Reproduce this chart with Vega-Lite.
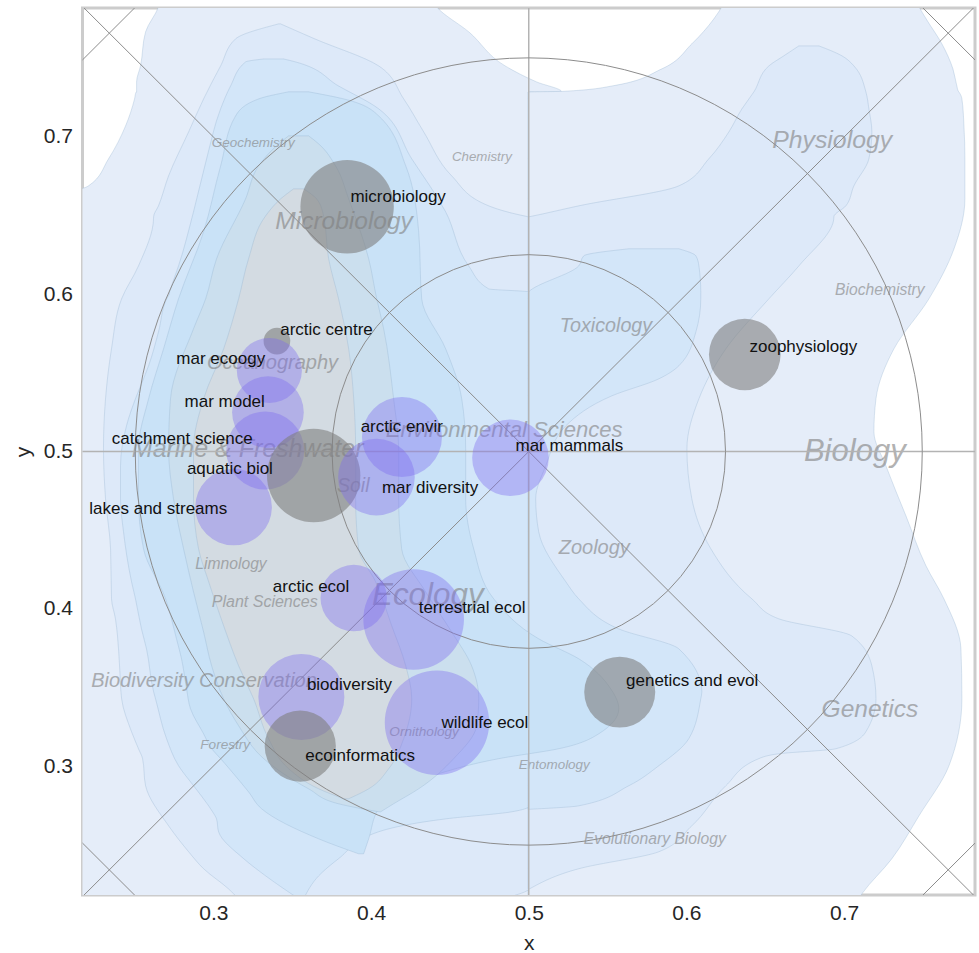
{
  "$schema": "https://vega.github.io/schema/vega-lite/v6.json",
  "width": 892.5,
  "height": 887,
  "autosize": {"type": "none"},
  "padding": {"left": 82.5, "top": 8, "right": 4, "bottom": 58},
  "background": "white",
  "config": {
    "view": {"stroke": "#cccccc", "strokeWidth": 3},
    "font": "Liberation Sans",
    "axis": {"grid": false, "ticks": false, "domain": false, "labelFontSize": 21, "labelColor": "#262626", "titleFontSize": 21, "titleFontWeight": "normal", "titleColor": "#262626", "labelFont": "Liberation Sans", "titleFont": "Liberation Sans"},
    "axisX": {"labelPadding": 7, "titlePadding": 9},
    "axisY": {"labelPadding": 10, "titlePadding": 10}
  },
  "datasets": {
    "contours": [
      {"level":"1","part":"a","y":0.795,"x0":0.268,"x1":0.436},
      {"level":"1","part":"a","y":0.7827,"x0":0.2652,"x1":0.4416},
      {"level":"1","part":"a","y":0.7668,"x0":0.257,"x1":0.462},
      {"level":"1","part":"a","y":0.7452,"x0":0.2538,"x1":0.485},
      {"level":"1","part":"a","y":0.735,"x0":0.2513,"x1":0.505},
      {"level":"1","part":"a","y":0.7287,"x0":0.2513,"x1":0.5209},
      {"level":"1","part":"a","y":0.7286,"x0":0.251,"x1":0.5005},
      {"level":"1","part":"a","y":0.7242,"x0":0.25,"x1":0.5005},
      {"level":"1","part":"a","y":0.707,"x0":0.2443,"x1":0.5005},
      {"level":"1","part":"a","y":0.6861,"x0":0.2335,"x1":0.5005},
      {"level":"1","part":"a","y":0.6689,"x0":0.2208,"x1":0.5005},
      {"level":"1","part":"a","y":0.6606,"x0":0.2,"x1":0.5005},
      {"level":"1","part":"a","y":0.5,"x0":0.2,"x1":0.5005},
      {"level":"1","part":"a","y":0.205,"x0":0.2,"x1":0.5005},
      {"level":"1","part":"b","y":0.795,"x0":0.63,"x1":0.742},
      {"level":"1","part":"b","y":0.7827,"x0":0.6225,"x1":0.7475},
      {"level":"1","part":"b","y":0.7751,"x0":0.6174,"x1":0.752},
      {"level":"1","part":"b","y":0.7592,"x0":0.6034,"x1":0.762},
      {"level":"1","part":"b","y":0.7433,"x0":0.5844,"x1":0.769},
      {"level":"1","part":"b","y":0.7324,"x0":0.5527,"x1":0.7715},
      {"level":"1","part":"b","y":0.729,"x0":0.5215,"x1":0.7725},
      {"level":"1","part":"b","y":0.7286,"x0":0.4995,"x1":0.7728},
      {"level":"1","part":"b","y":0.7242,"x0":0.4995,"x1":0.7747},
      {"level":"1","part":"b","y":0.707,"x0":0.4995,"x1":0.776},
      {"level":"1","part":"b","y":0.6861,"x0":0.4995,"x1":0.7766},
      {"level":"1","part":"b","y":0.6689,"x0":0.4995,"x1":0.7766},
      {"level":"1","part":"b","y":0.6606,"x0":0.4995,"x1":0.7766},
      {"level":"1","part":"b","y":0.6289,"x0":0.4995,"x1":0.7697},
      {"level":"1","part":"b","y":0.5971,"x0":0.4995,"x1":0.7538},
      {"level":"1","part":"b","y":0.5653,"x0":0.4995,"x1":0.7316},
      {"level":"1","part":"b","y":0.5335,"x0":0.4995,"x1":0.7202},
      {"level":"1","part":"b","y":0.5125,"x0":0.4995,"x1":0.7189},
      {"level":"1","part":"b","y":0.4909,"x0":0.4995,"x1":0.7265},
      {"level":"1","part":"b","y":0.4591,"x0":0.4995,"x1":0.7392},
      {"level":"1","part":"b","y":0.4273,"x0":0.4995,"x1":0.7519},
      {"level":"1","part":"b","y":0.4063,"x0":0.4995,"x1":0.7633},
      {"level":"1","part":"b","y":0.3745,"x0":0.4995,"x1":0.7741},
      {"level":"1","part":"b","y":0.3428,"x0":0.4995,"x1":0.7747},
      {"level":"1","part":"b","y":0.3002,"x0":0.4995,"x1":0.7665},
      {"level":"1","part":"b","y":0.2684,"x0":0.4995,"x1":0.7475},
      {"level":"1","part":"b","y":0.2411,"x0":0.4995,"x1":0.7303},
      {"level":"1","part":"b","y":0.2188,"x0":0.4995,"x1":0.7113},
      {"level":"1","part":"b","y":0.205,"x0":0.4995,"x1":0.703},
      {"level":"2","part":"a","y":0.7719,"x0":0.3414,"x1":0.3426},
      {"level":"2","part":"a","y":0.7624,"x0":0.3141,"x1":0.3642},
      {"level":"2","part":"a","y":0.7452,"x0":0.3046,"x1":0.4048},
      {"level":"2","part":"a","y":0.7242,"x0":0.2938,"x1":0.4207},
      {"level":"2","part":"a","y":0.7032,"x0":0.2843,"x1":0.4334},
      {"level":"2","part":"a","y":0.6753,"x0":0.2716,"x1":0.4511},
      {"level":"2","part":"a","y":0.6562,"x0":0.2652,"x1":0.4746},
      {"level":"2","part":"a","y":0.6492,"x0":0.2621,"x1":0.5},
      {"level":"2","part":"a","y":0.6491,"x0":0.2621,"x1":0.5005},
      {"level":"2","part":"a","y":0.618,"x0":0.2525,"x1":0.5005},
      {"level":"2","part":"a","y":0.5971,"x0":0.2418,"x1":0.5005},
      {"level":"2","part":"a","y":0.5653,"x0":0.2354,"x1":0.5005},
      {"level":"2","part":"a","y":0.5335,"x0":0.2316,"x1":0.5005},
      {"level":"2","part":"a","y":0.5017,"x0":0.2303,"x1":0.5005},
      {"level":"2","part":"a","y":0.47,"x0":0.2316,"x1":0.5005},
      {"level":"2","part":"a","y":0.4381,"x0":0.2348,"x1":0.5005},
      {"level":"2","part":"a","y":0.4063,"x0":0.2354,"x1":0.5005},
      {"level":"2","part":"a","y":0.3936,"x0":0.2379,"x1":0.5005},
      {"level":"2","part":"a","y":0.3827,"x0":0.2392,"x1":0.5005},
      {"level":"2","part":"a","y":0.3637,"x0":0.2405,"x1":0.5005},
      {"level":"2","part":"a","y":0.3428,"x0":0.2418,"x1":0.5005},
      {"level":"2","part":"a","y":0.3218,"x0":0.2481,"x1":0.5005},
      {"level":"2","part":"a","y":0.311,"x0":0.2525,"x1":0.5005},
      {"level":"2","part":"a","y":0.3047,"x0":0.2551,"x1":0.5005},
      {"level":"2","part":"a","y":0.2875,"x0":0.257,"x1":0.5005},
      {"level":"2","part":"a","y":0.262,"x0":0.2716,"x1":0.5005},
      {"level":"2","part":"a","y":0.2455,"x0":0.2843,"x1":0.5005},
      {"level":"2","part":"a","y":0.2347,"x0":0.2938,"x1":0.5005},
      {"level":"2","part":"a","y":0.2219,"x0":0.3096,"x1":0.5},
      {"level":"2","part":"a","y":0.2156,"x0":0.316,"x1":0.4854},
      {"level":"2","part":"a","y":0.2029,"x0":0.3287,"x1":0.4683},
      {"level":"2","part":"b","y":0.7579,"x0":0.6713,"x1":0.684},
      {"level":"2","part":"b","y":0.7516,"x0":0.6618,"x1":0.6986},
      {"level":"2","part":"b","y":0.7452,"x0":0.6523,"x1":0.7062},
      {"level":"2","part":"b","y":0.7287,"x0":0.6428,"x1":0.7138},
      {"level":"2","part":"b","y":0.7179,"x0":0.6352,"x1":0.7157},
      {"level":"2","part":"b","y":0.7032,"x0":0.6269,"x1":0.7176},
      {"level":"2","part":"b","y":0.6861,"x0":0.6142,"x1":0.7157},
      {"level":"2","part":"b","y":0.6689,"x0":0.5952,"x1":0.7062},
      {"level":"2","part":"b","y":0.6562,"x0":0.5317,"x1":0.7011},
      {"level":"2","part":"b","y":0.6492,"x0":0.5,"x1":0.6935},
      {"level":"2","part":"b","y":0.6491,"x0":0.4995,"x1":0.6935},
      {"level":"2","part":"b","y":0.618,"x0":0.4995,"x1":0.6713},
      {"level":"2","part":"b","y":0.5971,"x0":0.4995,"x1":0.6523},
      {"level":"2","part":"b","y":0.5653,"x0":0.4995,"x1":0.625},
      {"level":"2","part":"b","y":0.5335,"x0":0.4995,"x1":0.6079},
      {"level":"2","part":"b","y":0.5017,"x0":0.4995,"x1":0.6003},
      {"level":"2","part":"b","y":0.47,"x0":0.4995,"x1":0.6034},
      {"level":"2","part":"b","y":0.4381,"x0":0.4995,"x1":0.6155},
      {"level":"2","part":"b","y":0.4063,"x0":0.4995,"x1":0.6415},
      {"level":"2","part":"b","y":0.3936,"x0":0.4995,"x1":0.6586},
      {"level":"2","part":"b","y":0.3827,"x0":0.4995,"x1":0.7049},
      {"level":"2","part":"b","y":0.3637,"x0":0.4995,"x1":0.7176},
      {"level":"2","part":"b","y":0.3428,"x0":0.4995,"x1":0.7202},
      {"level":"2","part":"b","y":0.3218,"x0":0.4995,"x1":0.7138},
      {"level":"2","part":"b","y":0.311,"x0":0.4995,"x1":0.6948},
      {"level":"2","part":"b","y":0.3078,"x0":0.4995,"x1":0.6586},
      {"level":"2","part":"b","y":0.3047,"x0":0.4995,"x1":0.6459},
      {"level":"2","part":"b","y":0.2875,"x0":0.4995,"x1":0.625},
      {"level":"2","part":"b","y":0.262,"x0":0.4995,"x1":0.6034},
      {"level":"2","part":"b","y":0.2455,"x0":0.4995,"x1":0.5825},
      {"level":"2","part":"b","y":0.2347,"x0":0.4995,"x1":0.5317},
      {"level":"2","part":"b","y":0.2219,"x0":0.4995,"x1":0.5005},
      {"level":"3","part":"a","y":0.7496,"x0":0.3319,"x1":0.3445},
      {"level":"3","part":"a","y":0.7477,"x0":0.3204,"x1":0.3522},
      {"level":"3","part":"a","y":0.7324,"x0":0.3109,"x1":0.3794},
      {"level":"3","part":"a","y":0.7179,"x0":0.3046,"x1":0.4048},
      {"level":"3","part":"a","y":0.6861,"x0":0.2957,"x1":0.4258},
      {"level":"3","part":"a","y":0.6524,"x0":0.2874,"x1":0.4473},
      {"level":"3","part":"a","y":0.618,"x0":0.2779,"x1":0.4619},
      {"level":"3","part":"a","y":0.6034,"x0":0.2728,"x1":0.4746},
      {"level":"3","part":"a","y":0.6015,"x0":0.2722,"x1":0.5},
      {"level":"3","part":"a","y":0.6009,"x0":0.2722,"x1":0.5005},
      {"level":"3","part":"a","y":0.5971,"x0":0.2703,"x1":0.5005},
      {"level":"3","part":"a","y":0.5761,"x0":0.2652,"x1":0.5005},
      {"level":"3","part":"a","y":0.5545,"x0":0.2589,"x1":0.5005},
      {"level":"3","part":"a","y":0.5462,"x0":0.2557,"x1":0.5005},
      {"level":"3","part":"a","y":0.5354,"x0":0.2513,"x1":0.5005},
      {"level":"3","part":"a","y":0.5163,"x0":0.2449,"x1":0.5005},
      {"level":"3","part":"a","y":0.4909,"x0":0.2411,"x1":0.5005},
      {"level":"3","part":"a","y":0.47,"x0":0.2411,"x1":0.5005},
      {"level":"3","part":"a","y":0.449,"x0":0.243,"x1":0.5005},
      {"level":"3","part":"a","y":0.4172,"x0":0.2481,"x1":0.5005},
      {"level":"3","part":"a","y":0.4063,"x0":0.2506,"x1":0.5005},
      {"level":"3","part":"a","y":0.3872,"x0":0.2544,"x1":0.5005},
      {"level":"3","part":"a","y":0.3745,"x0":0.2576,"x1":0.5005},
      {"level":"3","part":"a","y":0.3472,"x0":0.2621,"x1":0.5005},
      {"level":"3","part":"a","y":0.3428,"x0":0.2633,"x1":0.5005},
      {"level":"3","part":"a","y":0.3174,"x0":0.2703,"x1":0.5005},
      {"level":"3","part":"a","y":0.3002,"x0":0.2779,"x1":0.5005},
      {"level":"3","part":"a","y":0.2875,"x0":0.2874,"x1":0.5005},
      {"level":"3","part":"a","y":0.2747,"x0":0.297,"x1":0.5005},
      {"level":"3","part":"a","y":0.2709,"x0":0.2995,"x1":0.4892},
      {"level":"3","part":"a","y":0.2664,"x0":0.302,"x1":0.4473},
      {"level":"3","part":"a","y":0.2582,"x0":0.3033,"x1":0.4048},
      {"level":"3","part":"a","y":0.2411,"x0":0.3192,"x1":0.3794},
      {"level":"3","part":"a","y":0.2302,"x0":0.3331,"x1":0.3668},
      {"level":"3","part":"a","y":0.2156,"x0":0.3541,"x1":0.3572},
      {"level":"3","part":"b","y":0.6289,"x0":0.5635,"x1":0.5952},
      {"level":"3","part":"b","y":0.6244,"x0":0.5349,"x1":0.606},
      {"level":"3","part":"b","y":0.618,"x0":0.5317,"x1":0.6079},
      {"level":"3","part":"b","y":0.6015,"x0":0.5,"x1":0.6091},
      {"level":"3","part":"b","y":0.6009,"x0":0.4995,"x1":0.6091},
      {"level":"3","part":"b","y":0.5971,"x0":0.4995,"x1":0.6091},
      {"level":"3","part":"b","y":0.5761,"x0":0.4995,"x1":0.606},
      {"level":"3","part":"b","y":0.5545,"x0":0.4995,"x1":0.5952},
      {"level":"3","part":"b","y":0.5462,"x0":0.4995,"x1":0.5825},
      {"level":"3","part":"b","y":0.5354,"x0":0.4995,"x1":0.5527},
      {"level":"3","part":"b","y":0.5163,"x0":0.4995,"x1":0.5235},
      {"level":"3","part":"b","y":0.4909,"x0":0.4995,"x1":0.5108},
      {"level":"3","part":"b","y":0.47,"x0":0.4995,"x1":0.5044},
      {"level":"3","part":"b","y":0.449,"x0":0.4995,"x1":0.5063},
      {"level":"3","part":"b","y":0.4172,"x0":0.4995,"x1":0.5235},
      {"level":"3","part":"b","y":0.4063,"x0":0.4995,"x1":0.5317},
      {"level":"3","part":"b","y":0.3872,"x0":0.4995,"x1":0.5571},
      {"level":"3","part":"b","y":0.3745,"x0":0.4995,"x1":0.5952},
      {"level":"3","part":"b","y":0.3472,"x0":0.4995,"x1":0.6098},
      {"level":"3","part":"b","y":0.3428,"x0":0.4995,"x1":0.6091},
      {"level":"3","part":"b","y":0.3174,"x0":0.4995,"x1":0.6015},
      {"level":"3","part":"b","y":0.3002,"x0":0.4995,"x1":0.5825},
      {"level":"3","part":"b","y":0.2875,"x0":0.4995,"x1":0.5635},
      {"level":"3","part":"b","y":0.2747,"x0":0.4995,"x1":0.5317},
      {"level":"3","part":"b","y":0.2725,"x0":0.4995,"x1":0.5005},
      {"level":"4","part":"a","y":0.7287,"x0":0.3477,"x1":0.3604},
      {"level":"4","part":"a","y":0.7242,"x0":0.3287,"x1":0.3826},
      {"level":"4","part":"a","y":0.7134,"x0":0.3141,"x1":0.4048},
      {"level":"4","part":"a","y":0.6816,"x0":0.3046,"x1":0.422},
      {"level":"4","part":"a","y":0.6397,"x0":0.2938,"x1":0.4302},
      {"level":"4","part":"a","y":0.5971,"x0":0.2779,"x1":0.4321},
      {"level":"4","part":"a","y":0.5653,"x0":0.2684,"x1":0.4473},
      {"level":"4","part":"a","y":0.5335,"x0":0.2589,"x1":0.4575},
      {"level":"4","part":"a","y":0.5017,"x0":0.2525,"x1":0.46},
      {"level":"4","part":"a","y":0.47,"x0":0.2525,"x1":0.46},
      {"level":"4","part":"a","y":0.4381,"x0":0.2557,"x1":0.4651},
      {"level":"4","part":"a","y":0.4063,"x0":0.2697,"x1":0.4778},
      {"level":"4","part":"a","y":0.3809,"x0":0.2766,"x1":0.5063},
      {"level":"4","part":"a","y":0.3682,"x0":0.2798,"x1":0.5317},
      {"level":"4","part":"a","y":0.3491,"x0":0.283,"x1":0.552},
      {"level":"4","part":"a","y":0.3364,"x0":0.2855,"x1":0.5571},
      {"level":"4","part":"a","y":0.3205,"x0":0.2938,"x1":0.5444},
      {"level":"4","part":"a","y":0.311,"x0":0.2989,"x1":0.519},
      {"level":"4","part":"a","y":0.3047,"x0":0.3046,"x1":0.481},
      {"level":"4","part":"a","y":0.2951,"x0":0.3128,"x1":0.4429},
      {"level":"4","part":"a","y":0.2836,"x0":0.3223,"x1":0.4175},
      {"level":"4","part":"a","y":0.2728,"x0":0.3306,"x1":0.4048},
      {"level":"4","part":"a","y":0.2537,"x0":0.3668,"x1":0.3985},
      {"level":"4","part":"a","y":0.2442,"x0":0.3921,"x1":0.3953},
      {"level":"5","part":"a","y":0.7007,"x0":0.3477,"x1":0.3604},
      {"level":"5","part":"a","y":0.6956,"x0":0.3414,"x1":0.3668},
      {"level":"5","part":"a","y":0.6816,"x0":0.3287,"x1":0.3775},
      {"level":"5","part":"a","y":0.6606,"x0":0.3204,"x1":0.3858},
      {"level":"5","part":"a","y":0.6225,"x0":0.302,"x1":0.3985},
      {"level":"5","part":"a","y":0.5971,"x0":0.2951,"x1":0.4036},
      {"level":"5","part":"a","y":0.578,"x0":0.2874,"x1":0.408},
      {"level":"5","part":"a","y":0.5335,"x0":0.2728,"x1":0.4143},
      {"level":"5","part":"a","y":0.5017,"x0":0.2716,"x1":0.4175},
      {"level":"5","part":"a","y":0.47,"x0":0.2747,"x1":0.4175},
      {"level":"5","part":"a","y":0.4381,"x0":0.2811,"x1":0.4194},
      {"level":"5","part":"a","y":0.4108,"x0":0.2874,"x1":0.4346},
      {"level":"5","part":"a","y":0.3853,"x0":0.2938,"x1":0.4511},
      {"level":"5","part":"a","y":0.3637,"x0":0.2989,"x1":0.4638},
      {"level":"5","part":"a","y":0.3428,"x0":0.3065,"x1":0.4683},
      {"level":"5","part":"a","y":0.3256,"x0":0.316,"x1":0.467},
      {"level":"5","part":"a","y":0.3047,"x0":0.3319,"x1":0.4524},
      {"level":"5","part":"a","y":0.2855,"x0":0.3604,"x1":0.4302},
      {"level":"5","part":"a","y":0.276,"x0":0.3794,"x1":0.4143},
      {"level":"5","part":"a","y":0.2709,"x0":0.4048,"x1":0.4061},
      {"level":"6","part":"a","y":0.667,"x0":0.3509,"x1":0.3572},
      {"level":"6","part":"a","y":0.6606,"x0":0.3426,"x1":0.3655},
      {"level":"6","part":"a","y":0.6498,"x0":0.3331,"x1":0.3699},
      {"level":"6","part":"a","y":0.6225,"x0":0.3223,"x1":0.3731},
      {"level":"6","part":"a","y":0.5971,"x0":0.316,"x1":0.3794},
      {"level":"6","part":"a","y":0.5653,"x0":0.3065,"x1":0.3858},
      {"level":"6","part":"a","y":0.5335,"x0":0.2938,"x1":0.389},
      {"level":"6","part":"a","y":0.5017,"x0":0.2874,"x1":0.3902},
      {"level":"6","part":"a","y":0.47,"x0":0.2874,"x1":0.3902},
      {"level":"6","part":"a","y":0.4381,"x0":0.2906,"x1":0.3921},
      {"level":"6","part":"a","y":0.4172,"x0":0.297,"x1":0.4029},
      {"level":"6","part":"a","y":0.3892,"x0":0.3065,"x1":0.4131},
      {"level":"6","part":"a","y":0.3637,"x0":0.316,"x1":0.422},
      {"level":"6","part":"a","y":0.3428,"x0":0.3255,"x1":0.4258},
      {"level":"6","part":"a","y":0.3174,"x0":0.335,"x1":0.4207},
      {"level":"6","part":"a","y":0.2983,"x0":0.3477,"x1":0.4112},
      {"level":"6","part":"a","y":0.2855,"x0":0.3668,"x1":0.3985},
      {"level":"6","part":"a","y":0.2792,"x0":0.3826,"x1":0.3858}
    ],
    "topics": [
      {"topic":"Geochemistry","x":0.299,"y":0.6935,"weight":0.42},
      {"topic":"Microbiology","x":0.3393,"y":0.6416,"weight":0.766},
      {"topic":"Chemistry","x":0.4513,"y":0.6846,"weight":0.416},
      {"topic":"Physiology","x":0.6544,"y":0.6931,"weight":0.775},
      {"topic":"Biochemistry","x":0.6942,"y":0.5992,"weight":0.49},
      {"topic":"Toxicology","x":0.5197,"y":0.5763,"weight":0.616},
      {"topic":"Oceanography","x":0.2959,"y":0.5526,"weight":0.625},
      {"topic":"Environmental Sciences","x":0.4093,"y":0.5092,"weight":0.69},
      {"topic":"Marine & Freshwater","x":0.2483,"y":0.4964,"weight":0.78},
      {"topic":"Biology","x":0.6745,"y":0.4939,"weight":0.97},
      {"topic":"Soil","x":0.3784,"y":0.4742,"weight":0.61},
      {"topic":"Zoology","x":0.519,"y":0.435,"weight":0.625},
      {"topic":"Limnology","x":0.2885,"y":0.4254,"weight":0.49},
      {"topic":"Ecology","x":0.4006,"y":0.4025,"weight":0.98},
      {"topic":"Plant Sciences","x":0.299,"y":0.4011,"weight":0.5},
      {"topic":"Biodiversity Conservation","x":0.2225,"y":0.3502,"weight":0.625},
      {"topic":"Genetics","x":0.6857,"y":0.3312,"weight":0.766},
      {"topic":"Ornithology","x":0.4116,"y":0.3191,"weight":0.425},
      {"topic":"Forestry","x":0.2917,"y":0.311,"weight":0.425},
      {"topic":"Entomology","x":0.4937,"y":0.2978,"weight":0.42},
      {"topic":"Evolutionary Biology","x":0.5349,"y":0.2506,"weight":0.49}
    ],
    "guides": [
      {"kind":"cross","x1":0.5,"y1":0,"x2":0.5,"y2":1},
      {"kind":"cross","x1":0,"y1":0.5,"x2":1,"y2":0.5},
      {"kind":"diag","x1":0,"y1":0,"x2":1,"y2":1},
      {"kind":"diag","x1":0,"y1":1,"x2":1,"y2":0},
      {"kind":"diag","x1":0,"y1":0.532,"x2":0.468,"y2":1},
      {"kind":"diag","x1":0.532,"y1":0,"x2":1,"y2":0.468},
      {"kind":"diag","x1":0.532,"y1":1,"x2":1,"y2":0.532},
      {"kind":"diag","x1":0,"y1":0.468,"x2":0.468,"y2":0}
    ],
    "rings": [
      {"cx":0.5,"cy":0.5,"r":0.125},
      {"cx":0.5,"cy":0.5,"r":0.25}
    ],
    "bubbles": [
      {"label":"microbiology","cluster":"grey","x":0.3848,"y":0.6556,"n":87.2,"lx":0.3869,"ly":0.6586},
      {"label":"arctic centre","cluster":"grey","x":0.3403,"y":0.5702,"n":7.1,"lx":0.3424,"ly":0.5742},
      {"label":"mar ecoogy","cluster":"blue","x":0.3355,"y":0.5515,"n":42.3,"lx":0.2765,"ly":0.5558},
      {"label":"mar model","cluster":"blue","x":0.3346,"y":0.525,"n":51.3,"lx":0.2817,"ly":0.5282},
      {"label":"catchment science","cluster":"blue","x":0.3329,"y":0.5006,"n":60.8,"lx":0.2356,"ly":0.5045},
      {"label":"aquatic biol","cluster":"grey","x":0.3636,"y":0.4847,"n":87.2,"lx":0.2832,"ly":0.4858},
      {"label":"lakes and streams","cluster":"blue","x":0.3128,"y":0.4647,"n":58.7,"lx":0.2213,"ly":0.4604},
      {"label":"arctic envir","cluster":"blue","x":0.4196,"y":0.5092,"n":64,"lx":0.3934,"ly":0.5127},
      {"label":"mar diversity","cluster":"blue","x":0.4034,"y":0.4837,"n":58.7,"lx":0.4069,"ly":0.4736},
      {"label":"mar mammals","cluster":"blue","x":0.4884,"y":0.496,"n":58.7,"lx":0.4916,"ly":0.5006},
      {"label":"arctic ecol","cluster":"blue","x":0.389,"y":0.4068,"n":44.1,"lx":0.3377,"ly":0.4106},
      {"label":"terrestrial ecol","cluster":"blue","x":0.427,"y":0.3932,"n":101.2,"lx":0.4302,"ly":0.3973},
      {"label":"biodiversity","cluster":"blue","x":0.3558,"y":0.3439,"n":74,"lx":0.3593,"ly":0.3481},
      {"label":"ecoinformatics","cluster":"grey","x":0.3551,"y":0.3127,"n":50.7,"lx":0.3583,"ly":0.3034},
      {"label":"wildlife ecol","cluster":"blue","x":0.4418,"y":0.3275,"n":109,"lx":0.4446,"ly":0.3242},
      {"label":"genetics and evol","cluster":"grey","x":0.5577,"y":0.347,"n":50.4,"lx":0.5617,"ly":0.3509},
      {"label":"zoophysiology","cluster":"grey","x":0.637,"y":0.5617,"n":51.3,"lx":0.64,"ly":0.5632}
    ]
  },
  "layer": [
    {
      "data": {"name": "contours"},
      "mark": {"type": "area", "orient": "horizontal", "interpolate": "monotone", "clip": true, "stroke": "#8fb0cd", "strokeWidth": 0.7, "strokeOpacity": 0.45},
      "encoding": {
        "y": {"field": "y", "type": "quantitative", "scale": {"domain": [0.218, 0.782], "nice": false, "zero": false}, "axis": {"title": "y", "values": [0.3, 0.4, 0.5, 0.6, 0.7], "format": ".1f"}},
        "x": {"field": "x0", "type": "quantitative", "stack": null, "scale": {"domain": [0.217, 0.783], "nice": false, "zero": false}, "axis": {"title": "x", "values": [0.3, 0.4, 0.5, 0.6, 0.7], "format": ".1f"}},
        "x2": {"field": "x1"},
        "color": {"field": "level", "type": "nominal", "scale": {"domain": ["1","2","3","4","5","6"], "range": ["#e5edf9","#dde9f9","#d3e6f9","#c9e2f7","#cbdfee","#d3dbe2"]}, "legend": null},
        "detail": {"field": "part"}
      }
    },
    {
      "data": {"name": "topics"},
      "mark": {"type": "text", "align": "left", "baseline": "alphabetic", "fontStyle": "italic", "font": "Liberation Sans", "color": "#808080", "opacity": 0.6, "clip": true},
      "encoding": {
        "x": {"field": "x", "type": "quantitative", "axis": {"title": "x", "values": [0.3, 0.4, 0.5, 0.6, 0.7], "format": ".1f"}},
        "y": {"field": "y", "type": "quantitative", "axis": {"title": "y", "values": [0.3, 0.4, 0.5, 0.6, 0.7], "format": ".1f"}},
        "text": {"field": "topic"},
        "size": {"field": "weight", "type": "quantitative", "scale": {"type": "linear", "domain": [0, 1], "range": [0, 32]}, "legend": null}
      }
    },
    {
      "data": {"name": "guides"},
      "transform": [{"filter": "datum.kind == 'cross'"}],
      "mark": {"type": "rule", "color": "#b3b3b3", "strokeWidth": 1.5, "clip": true},
      "encoding": {
        "x": {"field": "x1", "type": "quantitative", "axis": {"title": "x", "values": [0.3, 0.4, 0.5, 0.6, 0.7], "format": ".1f"}},
        "y": {"field": "y1", "type": "quantitative", "axis": {"title": "y", "values": [0.3, 0.4, 0.5, 0.6, 0.7], "format": ".1f"}},
        "x2": {"field": "x2"},
        "y2": {"field": "y2"}
      }
    },
    {
      "data": {"name": "guides"},
      "transform": [{"filter": "datum.kind == 'diag'"}],
      "mark": {"type": "rule", "color": "#8c8c8c", "strokeWidth": 1, "clip": true},
      "encoding": {
        "x": {"field": "x1", "type": "quantitative", "axis": {"title": "x", "values": [0.3, 0.4, 0.5, 0.6, 0.7], "format": ".1f"}},
        "y": {"field": "y1", "type": "quantitative", "axis": {"title": "y", "values": [0.3, 0.4, 0.5, 0.6, 0.7], "format": ".1f"}},
        "x2": {"field": "x2"},
        "y2": {"field": "y2"}
      }
    },
    {
      "data": {"name": "rings"},
      "mark": {"type": "point", "shape": "circle", "filled": false, "stroke": "#8c8c8c", "strokeWidth": 1, "opacity": 1, "clip": true},
      "encoding": {
        "x": {"field": "cx", "type": "quantitative", "axis": {"title": "x", "values": [0.3, 0.4, 0.5, 0.6, 0.7], "format": ".1f"}},
        "y": {"field": "cy", "type": "quantitative", "axis": {"title": "y", "values": [0.3, 0.4, 0.5, 0.6, 0.7], "format": ".1f"}},
        "size": {"field": "r", "type": "quantitative", "scale": {"type": "pow", "exponent": 2, "domain": [0, 0.25], "range": [0, 619369]}, "legend": null}
      }
    },
    {
      "data": {"name": "bubbles"},
      "mark": {"type": "point", "shape": "circle", "filled": true, "strokeWidth": 0, "clip": true},
      "encoding": {
        "x": {"field": "x", "type": "quantitative", "axis": {"title": "x", "values": [0.3, 0.4, 0.5, 0.6, 0.7], "format": ".1f"}},
        "y": {"field": "y", "type": "quantitative", "axis": {"title": "y", "values": [0.3, 0.4, 0.5, 0.6, 0.7], "format": ".1f"}},
        "size": {"field": "n", "type": "quantitative", "scale": {"type": "linear", "domain": [0, 100], "range": [0, 10000]}, "legend": null},
        "color": {"field": "cluster", "type": "nominal", "scale": {"domain": ["grey", "blue"], "range": ["#7f7f7f", "#7b68ee"]}, "legend": null},
        "opacity": {"field": "cluster", "type": "nominal", "scale": {"domain": ["grey", "blue"], "range": [0.6, 0.38]}, "legend": null}
      }
    },
    {
      "data": {"name": "bubbles"},
      "mark": {"type": "text", "align": "left", "baseline": "alphabetic", "font": "Liberation Sans", "fontSize": 17, "color": "#111111", "clip": true},
      "encoding": {
        "x": {"field": "lx", "type": "quantitative", "axis": {"title": "x", "values": [0.3, 0.4, 0.5, 0.6, 0.7], "format": ".1f"}},
        "y": {"field": "ly", "type": "quantitative", "axis": {"title": "y", "values": [0.3, 0.4, 0.5, 0.6, 0.7], "format": ".1f"}},
        "text": {"field": "label"}
      }
    }
  ],
  "resolve": {"scale": {"color": "independent", "size": "independent", "opacity": "independent"}}
}
